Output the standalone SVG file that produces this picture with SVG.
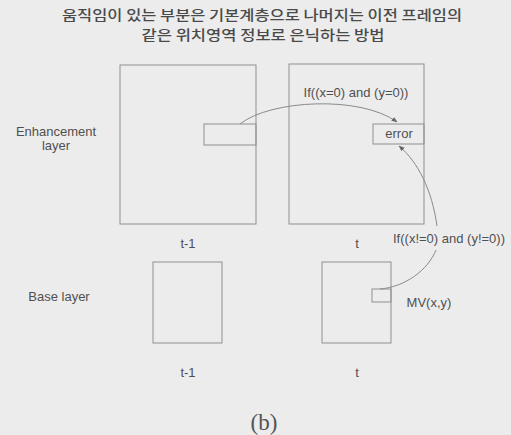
<svg xmlns="http://www.w3.org/2000/svg" width="511" height="435" viewBox="0 0 511 435">
<defs>
<style>
.box{fill:none;stroke:#8f8f8f;stroke-width:1}
.lbl{font-family:"Liberation Sans",Arial,sans-serif;font-size:13px;fill:#505050}
.ttl{font-family:"Noto Sans CJK KR","Noto Sans",sans-serif;font-size:13.5px;font-weight:500;fill:#4a4a4a}
.conn{fill:none;stroke:#8a8a8a;stroke-width:1}
</style>
<marker id="arr" viewBox="0 0 10 10" refX="9" refY="5" markerWidth="6" markerHeight="6" orient="auto">
<path d="M0,1 L10,5 L0,9 z" fill="#666"/>
</marker>
</defs>
<rect width="511" height="435" fill="#ececec"/>
<g id="title">
<text class="ttl" x="262" y="20" text-anchor="middle" textLength="400" lengthAdjust="spacingAndGlyphs">움직임이 있는 부분은 기본계층으로 나머지는 이전 프레임의</text>
<text class="ttl" x="263" y="39.5" text-anchor="middle" textLength="243" lengthAdjust="spacingAndGlyphs">같은 위치영역 정보로 은닉하는 방법</text>
</g>
<g id="enh-label"><text class="lbl" x="56" y="136" text-anchor="middle">Enhancement</text><text class="lbl" x="56" y="150" text-anchor="middle">layer</text></g>
<g id="base-label"><text class="lbl" x="59" y="301" text-anchor="middle">Base layer</text></g>
<g id="enh-t1">
<rect class="box" x="120" y="65" width="136" height="159"/>
<rect class="box" x="204" y="124" width="52" height="21"/>
<text class="lbl" x="188" y="248" text-anchor="middle">t-1</text>
</g>
<g id="enh-t">
<rect class="box" x="289" y="64" width="135" height="160"/>
<rect class="box" x="373" y="124" width="51" height="20"/>
<text class="lbl" x="399" y="138" text-anchor="middle">error</text>
<text class="lbl" x="357" y="248" text-anchor="middle">t</text>
</g>
<g id="base-t1">
<rect class="box" x="153" y="262" width="69" height="81"/>
<text class="lbl" x="188" y="377" text-anchor="middle">t-1</text>
</g>
<g id="base-t">
<rect class="box" x="322" y="262" width="69" height="81"/>
<rect class="box" x="372" y="289" width="19" height="13"/>
<text class="lbl" x="429" y="307" text-anchor="middle">MV(x,y)</text>
<text class="lbl" x="357" y="377" text-anchor="middle">t</text>
</g>
<g id="connectors">
<path class="conn" d="M240,124 C270,100 360,95 397,122" marker-end="url(#arr)"/>
<path class="conn" d="M380,289 C405,287 428,270 436,250"/>
<path class="conn" d="M437,226 C432,190 418,162 399,146" marker-end="url(#arr)"/>
</g>
<g id="cond-labels">
<text class="lbl" x="356" y="97" text-anchor="middle">If((x=0) and (y=0))</text>
<text class="lbl" x="449" y="243" text-anchor="middle">If((x!=0) and (y!=0))</text>
</g>
<text x="264" y="430" text-anchor="middle" font-family="'Liberation Serif',serif" font-size="23" fill="#555">(b)</text>
</svg>
